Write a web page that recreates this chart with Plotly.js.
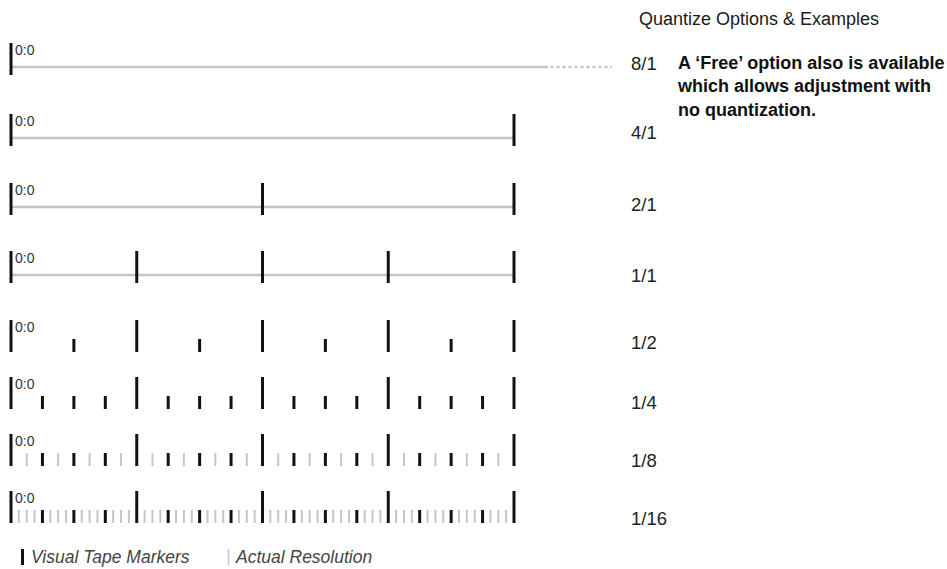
<!DOCTYPE html>
<html>
<head>
<meta charset="utf-8">
<script src="https://cdn.plot.ly/plotly-3.0.1.min.js"></script>
<style>
html,body{margin:0;padding:0;background:#fff;}
#chart{width:947px;height:569px;}
</style>
</head>
<body>
<div id="chart"></div>
<script>
// ---- data ----
const quantizeLabels = ['8/1', '4/1', '2/1', '1/1', '1/2', '1/4', '1/8', '1/16'];
const resolutionBars = [8, 4, 2, 1, 0.5, 0.25, 0.125, 0.0625];   // actual resolution (bars)
const visualMarkerBars = [8, 4, 2, 1, 0.5, 0.25, 0.25, 0.25];    // visual tape marker spacing (bars)
const hasTimeline = [true, true, true, true, false, false, false, false];
const timelineEnd = [4.27, 4, 4, 4, null, null, null, null];     // solid line end (bars)
const fadeEnd = [4.78, null, null, null, null, null, null, null]; // dotted continuation end (bars)
const spanBars = 4;
const startLabel = '0:0';
const titleText = 'Quantize Options & Examples';
const noteText = 'A \u2018Free\u2019 option also is available<br>which allows adjustment with<br>no quantization.';
const legendLabels = ['Visual Tape Markers', 'Actual Resolution'];

// ---- layout constants (pixels) ----
const W = 947, H = 569;
const x0px = 11, pxPerBar = 125.75;
const rowBottom = [75, 146, 215, 283, 352, 409, 466, 523];
const labelY = [63, 132, 204, 275, 342, 402, 460, 518];
const bigH = 32, smallH = 13, lineOff = 8;

const BLACK = '#111111', GRAY = '#c6c6c6', LINEGRAY = '#c4c4c4';
const eps = 1e-9;
function isMult(v, s) { const r = v / s; return Math.abs(r - Math.round(r)) < 1e-6; }

const big = {x: [], y: []}, smallB = {x: [], y: []}, smallG = {x: [], y: []};
const lines = {x: [], y: []}, dots = {x: [], y: []};

quantizeLabels.forEach((lab, i) => {
  const b = rowBottom[i];
  const res = resolutionBars[i], vis = visualMarkerBars[i];
  const bigStep = Math.max(res, 1);
  const n = Math.round(spanBars / res);
  for (let k = 0; k <= Math.max(n, 0); k++) {
    const v = k * res;
    if (v > spanBars + eps) break;
    if (isMult(v, bigStep)) {
      big.x.push(v, v, null); big.y.push(b - bigH, b, null);
    } else if (isMult(v, vis)) {
      smallB.x.push(v, v, null); smallB.y.push(b - smallH, b, null);
    } else {
      smallG.x.push(v, v, null); smallG.y.push(b - smallH, b, null);
    }
  }
  if (hasTimeline[i]) {
    lines.x.push(0, timelineEnd[i], null); lines.y.push(b - lineOff, b - lineOff, null);
    if (fadeEnd[i] !== null) {
      dots.x.push(timelineEnd[i] + 0.02, fadeEnd[i], null); dots.y.push(b - lineOff, b - lineOff, null);
    }
  }
});

const traces = [
  {x: lines.x, y: lines.y, mode: 'lines', line: {color: LINEGRAY, width: 2.5}, hoverinfo: 'skip'},
  {x: dots.x, y: dots.y, mode: 'lines', line: {color: LINEGRAY, width: 2.5, dash: 'dot'}, hoverinfo: 'skip'},
  {x: smallG.x, y: smallG.y, mode: 'lines', line: {color: GRAY, width: 2}, hoverinfo: 'skip'},
  {x: smallB.x, y: smallB.y, mode: 'lines', line: {color: BLACK, width: 3}, hoverinfo: 'skip'},
  {x: big.x, y: big.y, mode: 'lines', line: {color: BLACK, width: 3}, hoverinfo: 'skip'}
];

// legend sample marks (in bars, via axis scale)
const legX = [(22.5 - x0px) / pxPerBar, (228.5 - x0px) / pxPerBar];
traces.push({x: [legX[0], legX[0]], y: [549, 565], mode: 'lines', line: {color: BLACK, width: 3}, hoverinfo: 'skip'});
traces.push({x: [legX[1], legX[1]], y: [549, 565], mode: 'lines', line: {color: GRAY, width: 1.5}, hoverinfo: 'skip'});

const FONT = '"Liberation Sans", Arial, Helvetica, sans-serif';
const annotations = [];
quantizeLabels.forEach((lab, i) => {
  annotations.push({x: 0, y: rowBottom[i] - 25, xref: 'x', yref: 'y', text: startLabel, showarrow: false,
    xanchor: 'left', yanchor: 'middle', xshift: 2, font: {family: FONT, size: 14, color: '#333'}});
  annotations.push({x: 629 / W, y: labelY[i], xref: 'paper', yref: 'y', text: lab, showarrow: false,
    xanchor: 'left', yanchor: 'middle', font: {family: FONT, size: 18.5, color: '#222'}});
});
annotations.push({x: 637 / W, y: 19, xref: 'paper', yref: 'y', text: titleText, showarrow: false,
  xanchor: 'left', yanchor: 'middle', font: {family: FONT, size: 18, color: '#1a1a1a'}});
annotations.push({x: 946 / W, y: 51, xref: 'paper', yref: 'y', text: '<b>' + noteText + '</b>', showarrow: false,
  xanchor: 'right', yanchor: 'top', align: 'left', font: {family: FONT, size: 18, color: '#111'}});
annotations.push({x: legX[0], y: 557, xref: 'x', yref: 'y', text: '<i>' + legendLabels[0] + '</i>', showarrow: false,
  xanchor: 'left', yanchor: 'middle', xshift: 6, font: {family: FONT, size: 17.5, color: '#444'}});
annotations.push({x: legX[1], y: 557, xref: 'x', yref: 'y', text: '<i>' + legendLabels[1] + '</i>', showarrow: false,
  xanchor: 'left', yanchor: 'middle', xshift: 4, font: {family: FONT, size: 17.5, color: '#444'}});

const layout = {
  width: W, height: H,
  margin: {l: 0, r: 0, t: 0, b: 0},
  paper_bgcolor: '#fff', plot_bgcolor: '#fff',
  showlegend: false,
  xaxis: {range: [-x0px / pxPerBar, (W - x0px) / pxPerBar], visible: false, fixedrange: true},
  yaxis: {range: [H, 0], visible: false, fixedrange: true},
  annotations: annotations
};

Plotly.newPlot('chart', traces, layout, {displayModeBar: false, staticPlot: true});
</script>
</body>
</html>
